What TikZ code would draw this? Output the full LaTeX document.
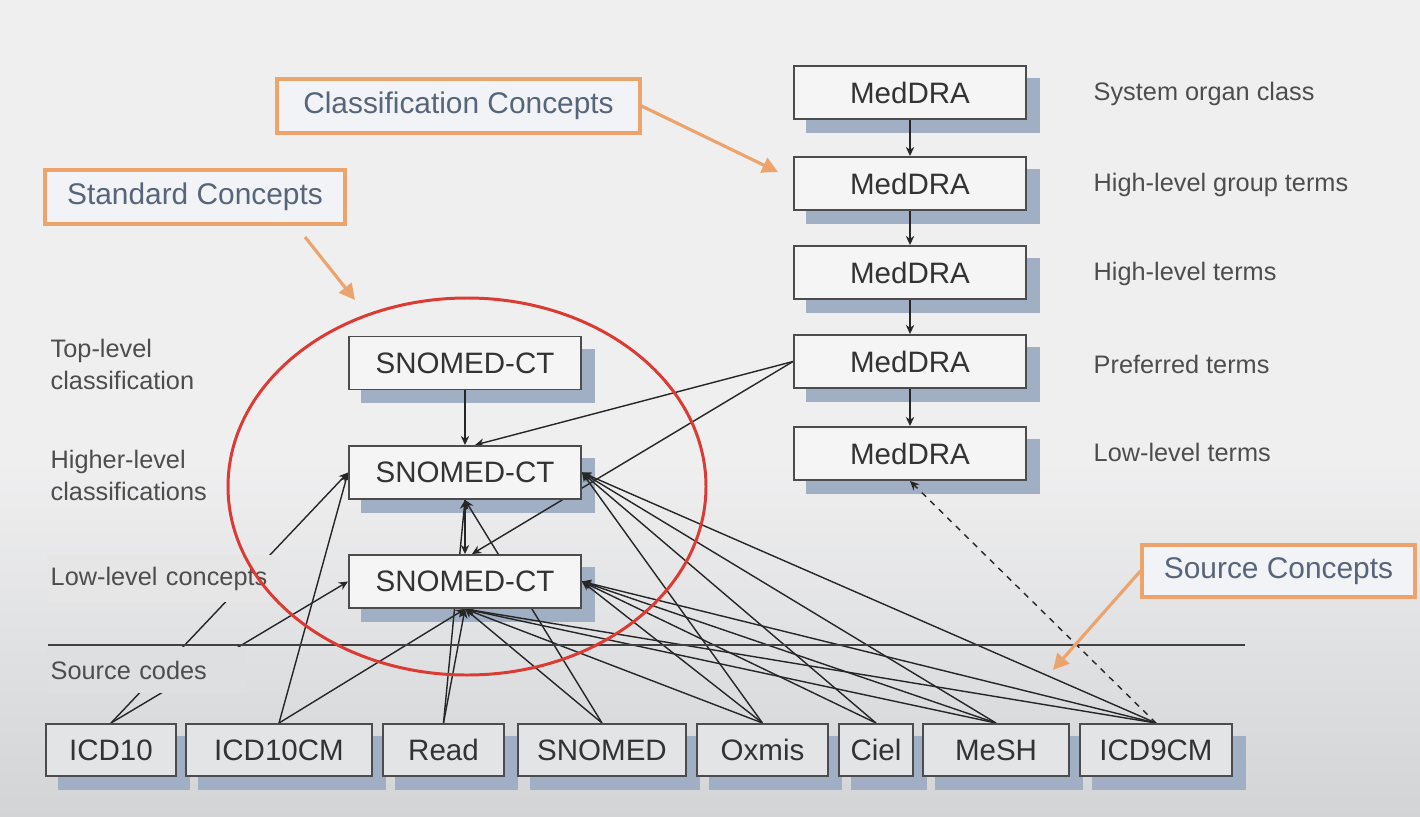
\documentclass[tikz,border=0pt]{standalone}
\usepackage{fontspec}
\setmainfont{Liberation Sans}
\usetikzlibrary{arrows.meta, calc}

\pgfdeclarelayer{bg}
\pgfdeclarelayer{shadows}
\pgfdeclarelayer{edges}
\pgfsetlayers{bg,shadows,edges,main}

\definecolor{boxfill}{HTML}{F5F5F5}
\definecolor{srcfill}{HTML}{E3E4E6}
\definecolor{boxshadow}{HTML}{A0AFC3}
\definecolor{calloutorange}{HTML}{EDA36C}
\definecolor{calloutfill}{HTML}{F1F3F6}
\definecolor{callouttext}{HTML}{56657A}
\definecolor{ovalred}{HTML}{DB3B32}
\definecolor{labeltext}{HTML}{4D4D4D}
\definecolor{bgtop}{HTML}{EFEFF0}
\definecolor{bgbottom}{HTML}{D3D4D6}

\tikzset{
  vocab/.style={shape=rectangle, draw=black!70, line width=0.55pt, fill=boxfill,
    minimum width=2.32cm, minimum height=0.53cm, inner sep=0pt,
    font=\fontsize{8.4}{10}\selectfont, text=black!80},
  sourcebox/.style={vocab, fill=srcfill, minimum height=0.52cm},
  tierlabel/.style={anchor=west, align=left, inner sep=0pt,
    font=\fontsize{7.2}{9.1}\selectfont, text=labeltext},
  conceptbox/.style={draw=calloutorange, line width=0.9pt, fill=calloutfill, inner sep=0pt,
    font=\fontsize{8.5}{10}\selectfont, text=callouttext, minimum height=0.54cm},
  conceptarrow/.style={draw=calloutorange, line width=0.9pt, -{Triangle[length=4.5pt,width=4.5pt]}},
}

\begin{document}
\begin{tikzpicture}
\begin{pgfonlayer}{bg}
    \fill[bgtop] (0,0) rectangle (14.20,-4.60);
    \shade[top color=bgtop, bottom color=bgbottom] (0,-4.60) rectangle (14.20,-8.17);
\end{pgfonlayer}
\useasboundingbox (0,0) rectangle (14.20,-8.17);

\begin{scope}[every node/.style={vocab}]
    \node (soc) at (9.10, -0.925) {MedDRA};
    \node (hlgt) at (9.10, -1.835) {MedDRA};
    \node (hlt) at (9.10, -2.725) {MedDRA};
    \node (pt) at (9.10, -3.615) {MedDRA};
    \node (llt) at (9.10, -4.535) {MedDRA};

    \node (snomedtop) at (4.65, -3.63) {SNOMED-CT};
    \node (snomedhigh) at (4.65, -4.725) {SNOMED-CT};
    \node (snomedlow) at (4.65, -5.815) {SNOMED-CT};
\end{scope}

\begin{scope}[every node/.style={sourcebox}]
    \node (icdten) at (1.11, -7.50) [minimum width=1.30cm] {ICD10};
    \node (icdtencm) at (2.79, -7.50) [minimum width=1.86cm] {ICD10CM};
    \node (read) at (4.435, -7.50) [minimum width=1.21cm] {Read};
    \node (snomed) at (6.02, -7.50) [minimum width=1.68cm] {SNOMED};
    \node (oxmis) at (7.625, -7.50) [minimum width=1.31cm] {Oxmis};
    \node (ciel) at (8.76, -7.50) [minimum width=0.74cm] {Ciel};
    \node (mesh) at (9.96, -7.50) [minimum width=1.46cm] {MeSH};
    \node (icdnine) at (11.56, -7.50) [minimum width=1.52cm] {ICD9CM};
\end{scope}

\begin{scope}[every node/.style={tierlabel}]
    \node (soclabel) at (10.93, -0.94) {System organ class};
    \node (hlgtlabel) at (10.93, -1.85) {High-level group terms};
    \node (hltlabel) at (10.93, -2.74) {High-level terms};
    \node (ptlabel) at (10.93, -3.64) {Preferred terms};
    \node (lltlabel) at (10.93, -4.52) {Low-level terms};

    \node (toplabel) at (0.50, -3.64) {Top-level\\classification};
    \node (highlabel) at (0.50, -4.75) {Higher-level\\classifications};
    \node (lowlabel) at (0.46, -5.785) [fill=bgbottom!33!bgtop, inner xsep=0.04cm,
        text width=2.25cm, minimum height=0.47cm] {Low-level concepts};
    \node (sourcelabel) at (0.46, -6.70) [fill=bgbottom!59!bgtop, inner xsep=0.04cm,
        text width=1.91cm, minimum height=0.46cm] {Source codes};
\end{scope}

\node (classconcepts) at (4.585, -1.06) [conceptbox, minimum width=3.63cm] {Classification Concepts};
\node (stdconcepts) at (1.95, -1.97) [conceptbox, minimum width=3.00cm] {Standard Concepts};
\node (srcconcepts) at (12.785, -5.71) [conceptbox, minimum width=2.73cm, minimum height=0.52cm] {Source Concepts};

\begin{pgfonlayer}{shadows}
    \foreach \n in {soc,hlgt,hlt,pt,llt,snomedtop,snomedhigh,snomedlow,
                    icdten,icdtencm,read,snomed,oxmis,ciel,mesh,icdnine}
        \fill[boxshadow] ($(\n.south west)+(0.13,-0.13)$) rectangle ($(\n.north east)+(0.13,-0.13)$);
\end{pgfonlayer}

\begin{pgfonlayer}{edges}
\begin{scope}[>={Stealth[length=2.6pt,width=2.4pt]},
              every edge/.style={draw=black!85, line width=0.4pt}]
    \path [->] (soc) edge (hlgt);
    \path [->] (hlgt) edge (hlt);
    \path [->] (hlt) edge (pt);
    \path [->] (pt) edge (llt);
    \path [->] (snomedtop) edge (snomedhigh);
    \path [->] (snomedhigh) edge (snomedlow);
    \path [->] (pt.west) edge ([xshift=1mm]snomedhigh.north);
    \path [->] (pt.west) edge ([xshift=0.7mm]snomedlow.north);

    \path [->] (icdten.north) edge (snomedhigh.west);
    \path [->] (icdten.north) edge (snomedlow.west);
    \path [->] (icdtencm.north) edge (snomedhigh.west);
    \path [->] (icdtencm.north) edge (snomedlow.south);
    \path [->] (read.north) edge (snomedlow.south);
    \path [->] (read.north) edge (snomedhigh.south);
    \path [->] (snomed.north) edge (snomedlow.south);
    \path [->] (snomed.north) edge (snomedhigh.south);
    \path [->] (oxmis.north) edge (snomedlow.south);
    \path [->] (oxmis.north) edge (snomedlow.east);
    \path [->] (oxmis.north) edge (snomedhigh.east);
    \path [->] (ciel.north) edge (snomedlow.east);
    \path [->] (ciel.north) edge (snomedhigh.east);
    \path [->] (mesh.north) edge (snomedlow.south);
    \path [->] (mesh.north) edge (snomedlow.east);
    \path [->] (mesh.north) edge (snomedhigh.east);
    \path [->] (icdnine.north) edge (snomedlow.south);
    \path [->] (icdnine.north) edge (snomedlow.east);
    \path [->] (icdnine.north) edge (snomedhigh.east);
    \path [->, dash pattern=on 1.7pt off 1.7pt] (icdnine.north) edge (llt.south);
\end{scope}
\end{pgfonlayer}

% source codes divider
\draw [line width=0.5pt, black!75] (0.48, -6.45) -- (12.45, -6.45);

\draw [ovalred, line width=0.85pt] (4.67, -4.865) ellipse [x radius=2.39, y radius=1.885];

\coordinate (classtip) at (7.78, -1.72);
\coordinate (stdstart) at (3.05, -2.37);
\coordinate (stdtip) at (3.55, -3.00);
\coordinate (srctip) at (10.53, -6.70);
\draw [conceptarrow] (classconcepts.east) -- (classtip);
\draw [conceptarrow] (stdstart) -- (stdtip);
\draw [conceptarrow] (srcconcepts.west) -- (srctip);
\end{tikzpicture}
\end{document}
